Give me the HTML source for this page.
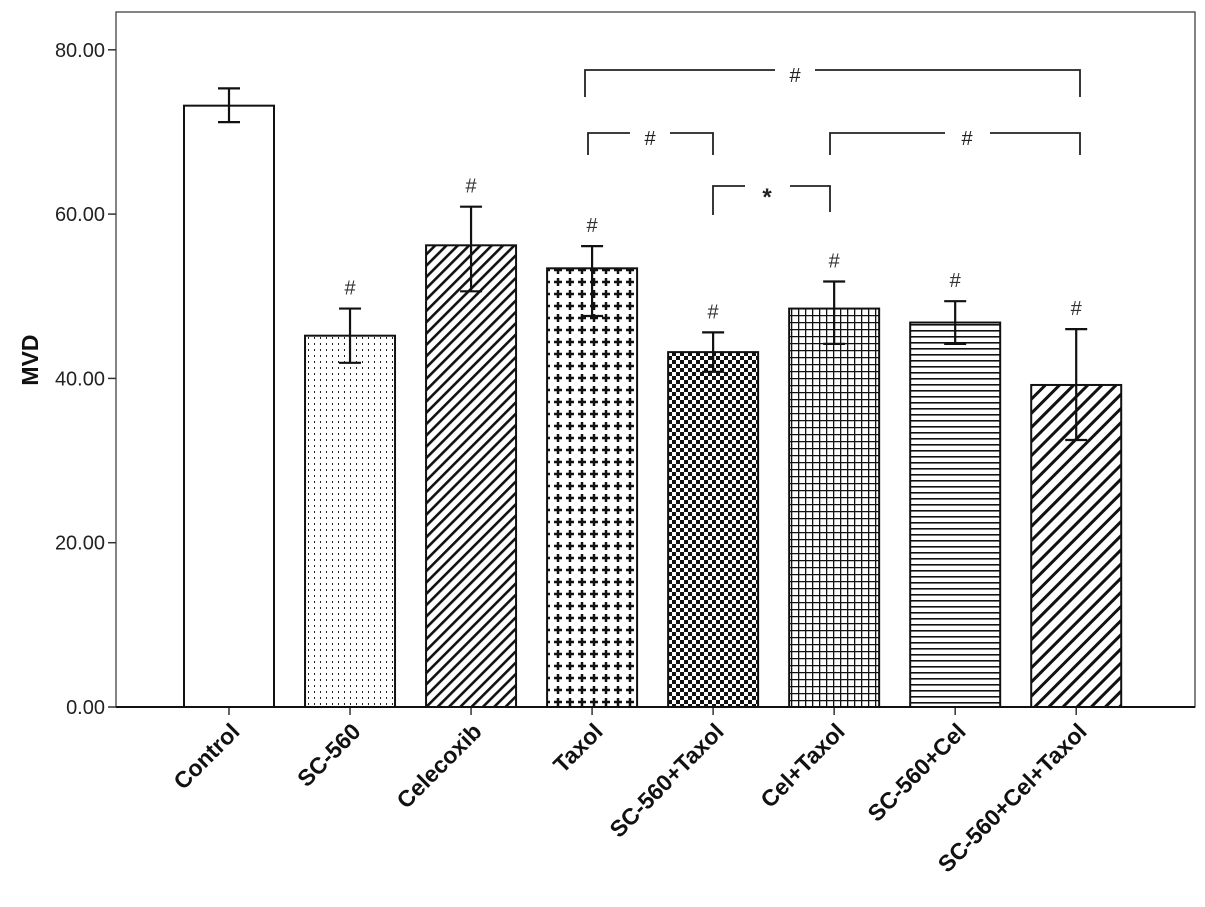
<!DOCTYPE html>
<html><head><meta charset="utf-8"><style>
body{margin:0;background:#fff}
svg{display:block;font-family:"Liberation Sans",sans-serif}
</style></head><body>
<svg id="chart" width="1205" height="907">
<defs>
<pattern id="p0" width="8" height="8" patternUnits="userSpaceOnUse"><rect width="8" height="8" fill="#fff"/></pattern>
<pattern id="p1" width="6" height="6" patternUnits="userSpaceOnUse"><rect width="6" height="6" fill="#fff"/><rect x="2" y="1" width="1" height="2" fill="#222"/></pattern>
<pattern id="p2" width="8" height="8" patternUnits="userSpaceOnUse" patternTransform="rotate(45)"><rect width="8" height="8" fill="#fff"/><rect width="2.6" height="8" fill="#111"/></pattern>
<pattern id="p3" width="12" height="12" patternUnits="userSpaceOnUse"><rect width="12" height="12" fill="#fff"/><path d="M6 2v8M2 6h8" stroke="#111" stroke-width="2.5"/></pattern>
<pattern id="p4" width="8" height="8" patternUnits="userSpaceOnUse"><rect width="8" height="8" fill="#fff"/><rect width="4" height="4" fill="#111"/><rect x="4" y="4" width="4" height="4" fill="#111"/></pattern>
<pattern id="p5" width="7" height="7" patternUnits="userSpaceOnUse"><rect width="7" height="7" fill="#fff"/><path d="M0 0.5h7M0.5 0v7" stroke="#111" stroke-width="1.6"/></pattern>
<pattern id="p6" width="6" height="6" patternUnits="userSpaceOnUse"><rect width="6" height="6" fill="#fff"/><rect y="0" width="6" height="1.6" fill="#111"/></pattern>
<pattern id="p7" width="10" height="10" patternUnits="userSpaceOnUse" patternTransform="rotate(45)"><rect width="10" height="10" fill="#fff"/><rect width="3" height="10" fill="#111"/></pattern>
</defs>
<rect x="116" y="12" width="1079" height="695" fill="none" stroke="#333" stroke-width="1.2"/>
<g id="g"></g>
</svg>
<script>
const categories=["Control","SC-560","Celecoxib","Taxol","SC-560+Taxol","Cel+Taxol","SC-560+Cel","SC-560+Cel+Taxol"];
const means=[73.2,45.2,56.2,53.4,43.2,48.5,46.8,39.2];
const errLow=[71.2,41.9,50.6,47.6,40.8,44.2,44.2,32.5];
const errHigh=[75.3,48.5,60.9,56.1,45.6,51.8,49.4,46.0];
const hashOn=[0,1,1,1,1,1,1,1];
const yTicks=[0,20,40,60,80];
const yTickLabels=["0.00","20.00","40.00","60.00","80.00"];
const NS="http://www.w3.org/2000/svg",g=document.getElementById('g');
const y=v=>707-v*8.215;
const x=i=>229+i*121.03;
function mk(t,a,txt){const e=document.createElementNS(NS,t);for(const k in a)e.setAttribute(k,a[k]);if(txt!==undefined)e.textContent=txt;g.appendChild(e);return e;}
yTicks.forEach((v,i)=>{
 let l=mk('line',{x1:108,x2:116,y1:y(v),y2:y(v),stroke:'#333','stroke-width':1.5});
 
 
 let t=mk('text',{x:105,y:y(v)+7,'text-anchor':'end','font-size':20,fill:'#222'},yTickLabels[i]);
 
 
});
let yt=mk('text',{x:0,y:0,transform:'translate(38,360) rotate(-90)','text-anchor':'middle','font-size':23,'font-weight':'bold',fill:'#111'},'MVD');


categories.forEach((c,i)=>{
 const cx=x(i);
 let b=mk('rect',{x:cx-45,y:y(means[i]),width:90,height:707-y(means[i]),fill:'url(#p'+i+')',stroke:'#111','stroke-width':2});
 
 
 let e=mk('path',{d:`M${cx} ${y(errLow[i])}V${y(errHigh[i])}M${cx-11} ${y(errLow[i])}h22M${cx-11} ${y(errHigh[i])}h22`,stroke:'#111','stroke-width':2.2,fill:'none'});
 
 
 let tk=mk('line',{x1:cx,x2:cx,y1:707,y2:715,stroke:'#333','stroke-width':1.5});
 
 
 let t=mk('text',{x:0,y:0,transform:`translate(${cx+12},733) rotate(-45)`,'text-anchor':'end','font-size':23,'font-weight':'bold',fill:'#111'},c);
 
 
 if(hashOn[i]){
  let h=mk('text',{x:cx,y:y(errHigh[i])-14,'text-anchor':'middle','font-size':20,fill:'#333'},'#');
  
  
 }
});
let ax=mk('line',{x1:116,x2:1195,y1:707,y2:707,stroke:'#111','stroke-width':2});


function br(d,lx,ly,s){
 let p=mk('path',{d:d,stroke:'#222','stroke-width':1.8,fill:'none'});
 
 
 let t=mk('text',{x:lx,y:ly,'text-anchor':'middle','font-size':s=='*'?24:20,'font-weight':s=='*'?'bold':'normal',fill:'#222'},s);
 
 
}
br('M585 97V70H775M815 70H1080V97',795,82,'#');
br('M588 155V133H630M670 133H713V155',650,145,'#');
br('M830 155V133H945M990 133H1080V155',967,145,'#');
br('M713 215V186H745M790 186H830V212',767,205,'*');
</script>
</body></html>
